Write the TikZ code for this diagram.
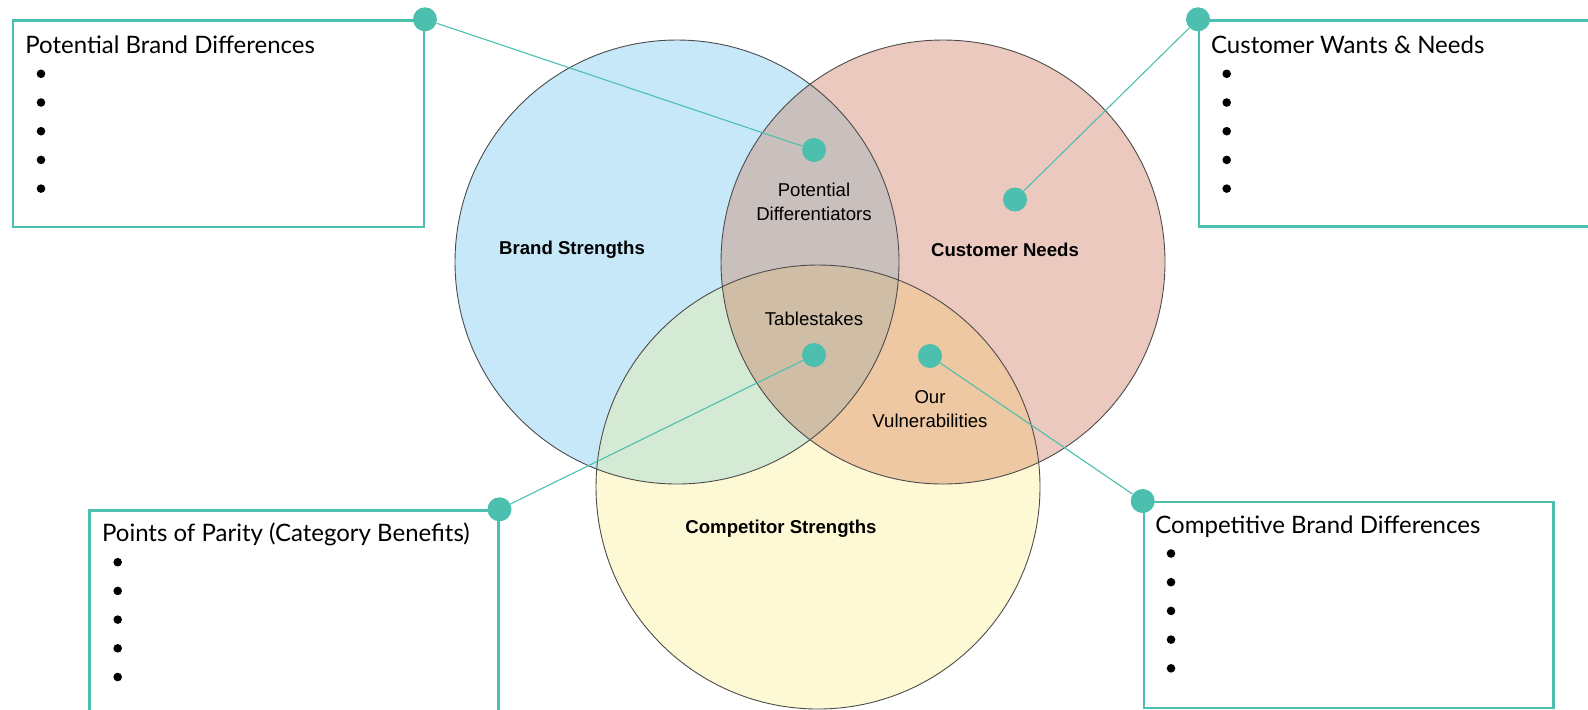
\documentclass[tikz,border=0pt]{standalone}
\usepackage{fontspec}
\setmainfont{Liberation Sans}
\newfontfamily\boxfont{Lato}
\usetikzlibrary{positioning}

\definecolor{brandfill}{HTML}{C6E8F8}
\definecolor{needfill}{HTML}{ECC9BF}
\definecolor{compfill}{HTML}{FEF9D5}
\definecolor{bcfill}{HTML}{D5EAD4}
\definecolor{bnfill}{HTML}{C9BFBD}
\definecolor{ncfill}{HTML}{EDC8A2}
\definecolor{allfill}{HTML}{CFBEA5}
\definecolor{pinteal}{HTML}{4DBFAE}

\tikzset{
  venn/.style={draw=black!70, line width=0.45pt},
  listbox/.style={draw=pinteal, line width=1.1pt, rectangle, inner sep=0pt, anchor=north west},
  boxhead/.style={font=\boxfont\fontsize{12}{14}\selectfont, inner sep=0pt, anchor=base west},
  pin/.style={circle, fill=pinteal, inner sep=0pt, minimum size=12pt},
  lead/.style={draw=pinteal, line width=0.55pt},
  setname/.style={font=\bfseries\fontsize{9.3}{12}\selectfont},
  zone/.style={font=\fontsize{9.3}{12.2}\selectfont, align=center}
}

\begin{document}
\begin{tikzpicture}[x=0.5pt, y=-0.5pt]
  \useasboundingbox (0,0) rectangle (1588,709);
  \clip (0,0) rectangle (1588,709);

  % circle centres
  \coordinate (cBrand) at (677,262);
  \coordinate (cNeed)  at (943,262);
  \coordinate (cComp)  at (818,487);

  % sets
  \fill[brandfill] (cBrand) circle[radius=222];
  \fill[needfill]  (cNeed)  circle[radius=222];
  \fill[compfill]  (cComp)  circle[radius=222];
  \begin{scope}
    \clip (cBrand) circle[radius=222];
    \fill[bnfill] (cNeed) circle[radius=222];
    \fill[bcfill] (cComp) circle[radius=222];
  \end{scope}
  \begin{scope}
    \clip (cNeed) circle[radius=222];
    \fill[ncfill] (cComp) circle[radius=222];
    \clip (cBrand) circle[radius=222];
    \fill[allfill] (cComp) circle[radius=222];
  \end{scope}
  \draw[venn] (cBrand) circle[radius=222];
  \draw[venn] (cNeed)  circle[radius=222];
  \draw[venn] (cComp)  circle[radius=222];

  % labels
  \node[setname] (brand) at (572,250) {Brand Strengths};
  \node[setname] (need)  at (1005,250) {Customer Needs};
  \node[setname] (comp)  at (781,529) {Competitor Strengths};
  \node[zone] (diff)  at (814,202) {Potential\\Differentiators};
  \node[zone] (table) at (814,319) {Tablestakes};
  \node[zone] (vuln)  at (930,409) {Our\\Vulnerabilities};

  % boxes
  \node[listbox, minimum width=205.4pt, minimum height=103.2pt] (boxPBD) at (12,19.3) {};
  \node[listbox, minimum width=215pt, minimum height=103pt] (boxCWN) at (1198,19.3) {};
  \node[listbox, minimum width=204.5pt, minimum height=120pt] (boxPOP) at (88.3,509.3) {};
  \node[listbox, minimum width=204.8pt, minimum height=102.9pt] (boxCBD) at (1142.7,501) {};

  \node[boxhead] (headPBD) at ([shift={(13,34)}]boxPBD.north west) {Potential Brand Differences};
  \node[boxhead] (headCWN) at ([shift={(12.7,34)}]boxCWN.north west) {Customer Wants \& Needs};
  \node[boxhead] (headPOP) at ([shift={(13.4,32.4)}]boxPOP.north west) {Points of Parity (Category Benefits)};
  \node[boxhead] (headCBD) at ([shift={(12.3,32)}]boxCBD.north west) {Competitive Brand Differences};

  \foreach \h in {headPBD,headCWN,headPOP,headCBD}
    \foreach \i in {0,...,4}
      \fill ([shift={(16,20.5+28.7*\i)}]\h.base west) circle[radius=4.3];

  % pins and leads
  \node[pin] (pinPD) at (814,150) {};
  \node[pin] (pinCN) at (1015,199.5) {};
  \node[pin] (pinTS) at (814,355) {};
  \node[pin] (pinOV) at (930,356) {};
  \node[pin] (pinPBD) at (boxPBD.north east) {};
  \node[pin] (pinCWN) at (boxCWN.north west) {};
  \node[pin] (pinPOP) at (boxPOP.north east) {};
  \node[pin] (pinCBD) at (boxCBD.north west) {};

  \draw[lead] (pinPBD) -- (pinPD);
  \draw[lead] (pinCWN) -- (pinCN);
  \draw[lead] (pinPOP) -- (pinTS);
  \draw[lead] (pinCBD) -- (pinOV);
\end{tikzpicture}
\end{document}
